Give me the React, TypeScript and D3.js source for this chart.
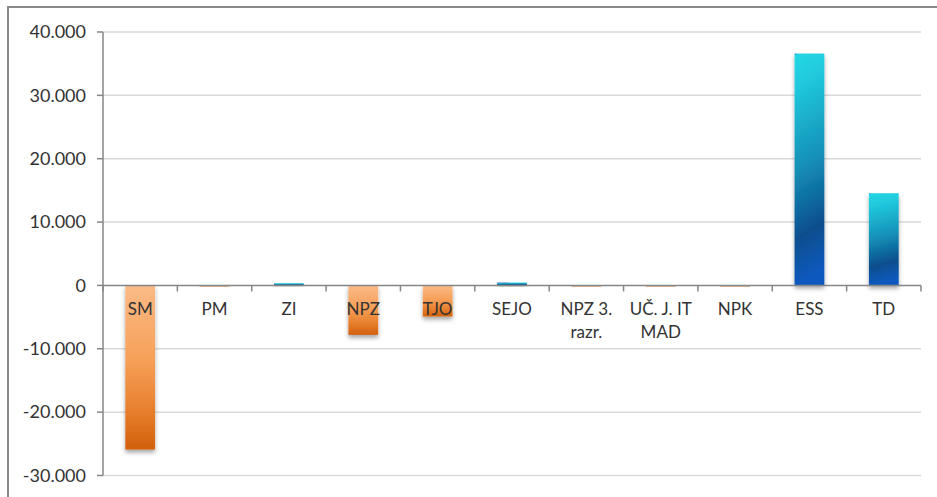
import React from "react";
import * as d3 from "d3";

const categories = ["SM", "PM", "ZI", "NPZ", "TJO", "SEJO", "NPZ 3.\nrazr.", "UČ. J. IT\nMAD", "NPK", "ESS", "TD"];
const values = [-25900, -60, 350, -7800, -4900, 450, -60, -60, -60, 36600, 14550];
const yTicks = [-30000, -20000, -10000, 0, 10000, 20000, 30000, 40000];

const W = 937;
const H = 497;
const left = 103;
const right = 921;
const top = 32;
const bottom = 475.5;
const FONT = "Lato, 'Open Sans', sans-serif";

const locale = d3.formatLocale({ decimal: ",", thousands: ".", grouping: [3], currency: ["", ""], minus: "-" });
const fmt = locale.format(",.0f");

export default function App() {
  const y = d3.scaleLinear().domain([-30000, 40000]).range([bottom, top]);
  const x = d3.scaleBand<string>().domain(categories).range([left, right]).paddingInner(0.6).paddingOuter(0.3);
  const step = x.step();
  const y0 = y(0);

  return (
    <svg width={W} height={H} style={{ position: "fixed", left: 0, top: 0, background: "#fff" }}>
      <defs>
        <linearGradient id="neg" x1="0" y1="0" x2="0" y2="1">
          <stop offset="0" stopColor="#FBBA86" />
          <stop offset="0.45" stopColor="#F6A059" />
          <stop offset="0.75" stopColor="#E8812F" />
          <stop offset="1" stopColor="#D2600C" />
        </linearGradient>
        <linearGradient id="pos" x1="0" y1="0" x2="0.08" y2="1">
          <stop offset="0" stopColor="#1F63C4" />
          <stop offset="0.01" stopColor="#24D7E3" />
          <stop offset="0.15" stopColor="#20C8DD" />
          <stop offset="0.5" stopColor="#1590B7" />
          <stop offset="0.8" stopColor="#0A4E8D" />
          <stop offset="1" stopColor="#0759BE" />
        </linearGradient>
        <filter id="shadow" x="-30%" y="-30%" width="160%" height="160%">
          <feDropShadow dx="0" dy="3" stdDeviation="2.2" floodColor="#000" floodOpacity="0.35" />
        </filter>
      </defs>
      <rect x={8} y={7} width={960} height={520} fill="#fff" stroke="#8a8a8a" strokeWidth={2} />

      {yTicks.filter((t) => t !== 0).map((t) => (
        <line key={"g" + t} x1={left} x2={right} y1={y(t)} y2={y(t)} stroke="#D9D9D9" strokeWidth={1.5} />
      ))}

      {categories.map((c, i) => {
        const v = values[i];
        const yv = y(v);
        const h = Math.max(Math.abs(yv - y0), 1);
        return (
          <rect
            key={"b" + i}
            x={x(c)}
            y={v >= 0 ? y0 - h : y0}
            width={x.bandwidth()}
            height={h}
            fill={v >= 0 ? "url(#pos)" : "url(#neg)"}
            filter="url(#shadow)"
          />
        );
      })}

      <line x1={left} x2={left} y1={top} y2={bottom} stroke="#868686" strokeWidth={1.5} />
      {yTicks.map((t) => (
        <g key={"t" + t}>
          <line x1={left - 6} x2={left} y1={y(t)} y2={y(t)} stroke="#868686" strokeWidth={1.5} />
          <text x={86} y={y(t)} dy="0.35em" textAnchor="end" fontFamily={FONT} fontSize={18} fill="#333">
            {fmt(t)}
          </text>
        </g>
      ))}

      <line x1={left} x2={right} y1={y0} y2={y0} stroke="#868686" strokeWidth={1.5} />
      {d3.range(categories.length + 1).map((i) => (
        <line key={"ct" + i} x1={left + i * step} x2={left + i * step} y1={y0} y2={y0 + 6} stroke="#868686" strokeWidth={1.5} />
      ))}

      {categories.map((c, i) => {
        const cx = (x(c) as number) + x.bandwidth() / 2;
        const lines = c.split("\n");
        return (
          <text key={"l" + i} x={cx} y={309} textAnchor="middle" fontFamily={FONT} fontSize={17} fill="#333">
            {lines.map((ln, j) => (
              <tspan key={j} x={cx} dy={j === 0 ? "0.35em" : 23.5}>
                {ln}
              </tspan>
            ))}
          </text>
        );
      })}
    </svg>
  );
}
